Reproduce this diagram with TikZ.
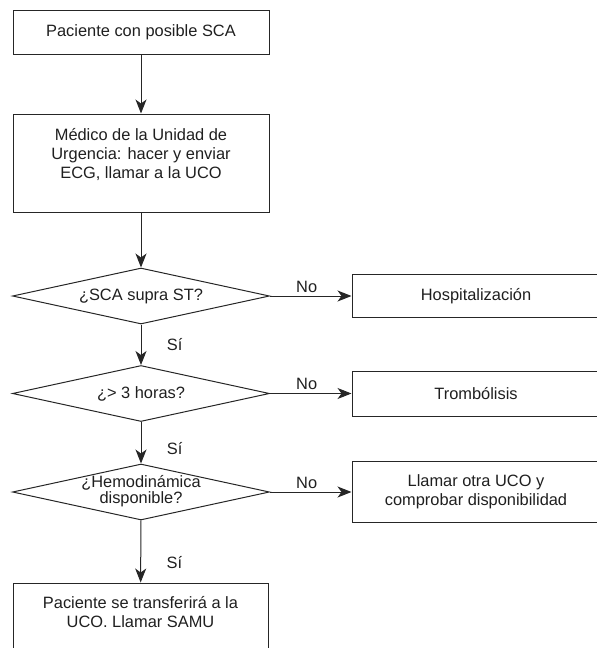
\documentclass[tikz,border=0pt]{standalone}
\usepackage{fontspec}
\setmainfont{Liberation Sans}
\usetikzlibrary{shapes.geometric,arrows.meta}

\begin{document}
\begin{tikzpicture}[x=1pt,y=-1pt,
    every node/.style={text=black!88,font=\fontsize{16.4}{19}\selectfont},
    box/.style={draw=black!85,line width=1pt,align=center,inner sep=0pt},
    decision/.style={draw=black!85,line width=1pt,diamond,inner sep=0pt,
        minimum width=257pt,minimum height=56pt},
    flow/.style={draw=black!85,line width=1pt,-{Stealth[length=14pt,width=11pt,inset=4pt]}}]
\useasboundingbox (0,0) rectangle (597,648);
\clip (0,0) rectangle (597,648);

% Main column
\node[box,minimum width=256pt,minimum height=44pt] (start) at (141,32) {Paciente con posible SCA};
\node[box,minimum width=256pt,minimum height=98pt] (ecg) at (141,163)
    {Médico de la Unidad de\\Urgencia: hacer y enviar\\ECG, llamar a la UCO\\\mbox{}};
\node[decision] (supra) at (141,296) {};
\node (supratext) at (supra) {¿SCA supra ST?};
\node[decision] (horas) at (141,393.5) {};
\node (horastext) at (horas) {¿> 3 horas?};
\node[decision] (hemo) at (141,492) {};
\node[align=center,font=\fontsize{16.4}{16.5}\selectfont] (hemotext) at ([yshift=1pt]hemo) {¿Hemodinámica\\disponible?};
\node[box,minimum width=255pt,minimum height=77pt] (samu) at (140.5,621.5)
    {Paciente se transferirá a la\\UCO. Llamar SAMU\\\mbox{}};

% Right column
\node[box,minimum width=248pt,minimum height=43pt] (hosp) at (476,296) {Hospitalización};
\node[box,minimum width=248pt,minimum height=45pt] (tromb) at (476,393.5) {Trombólisis};
\node[box,minimum width=248pt,minimum height=61pt] (otra) at (476,492)
    {Llamar otra UCO y\\comprobar disponibilidad};

% Arrows down
\draw[flow] (start) -- (ecg);
\draw[flow] (ecg) -- (supra);
\draw[flow] (supra) -- node[pos=0.5,right,xshift=22pt] (si1) {Sí} (horas);
\draw[flow] (horas) -- node[pos=0.63,right,xshift=22pt] (si2) {Sí} (hemo);
\draw[flow] (hemo) -- node[pos=0.68,right,xshift=22pt] (si3) {Sí} (samu);

% Arrows right
\draw[flow] (supra) -- node[pos=0.45,above] (no1) {No} (hosp);
\draw[flow] (horas) -- node[pos=0.45,above] (no2) {No} (tromb);
\draw[flow] (hemo) -- node[pos=0.45,above] (no3) {No} (otra);
\end{tikzpicture}
\end{document}
